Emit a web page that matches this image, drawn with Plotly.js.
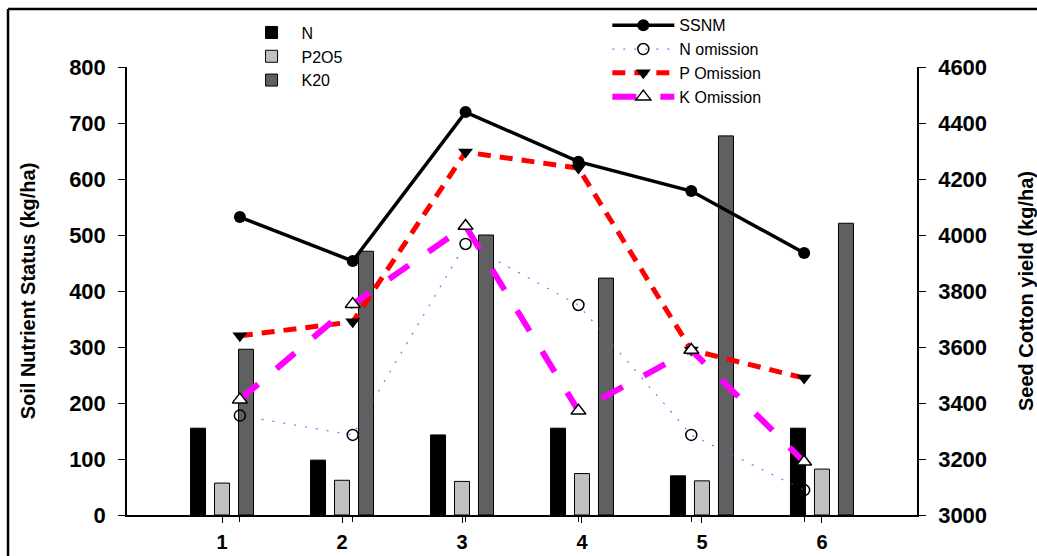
<!DOCTYPE html>
<html>
<head>
<meta charset="utf-8">
<script src="https://cdn.plot.ly/plotly-3.0.1.min.js"></script>
<style>html,body{margin:0;padding:0;background:#fff;}#chart{width:1037px;height:556px;}</style>
</head>
<body>
<div id="chart"></div>
<script>
// ---- data ----
const categories = [1, 2, 3, 4, 5, 6];
const tickLabels = ["1", "2", "3", "4", "5", "6"];
const nutrientN = [155, 98, 143, 155, 70, 155];
const nutrientP2O5 = [57, 62, 60, 74, 61, 82];
const nutrientK20 = [296, 471, 500, 423, 677, 521];
const yieldSSNM = [4064, 3907, 4439, 4262, 4157, 3936];
const yieldNOmission = [3355, 3286, 3968, 3750, 3286, 3089];
const yieldPOmission = [3640, 3690, 4296, 4239, 3589, 3489];
const yieldKOmission = [3412, 3753, 4032, 3372, 3589, 3190];

const FONT = "Liberation Sans, Arial, sans-serif";

const traces = [
  {type: "bar", name: "N", x: categories, y: nutrientN, xaxis: "x", yaxis: "y",
   marker: {color: "#000000", line: {color: "#000000", width: 1}}, legend: "legend"},
  {type: "bar", name: "P2O5", x: categories, y: nutrientP2O5, xaxis: "x", yaxis: "y",
   marker: {color: "#c0c0c0", line: {color: "#000000", width: 1}}, legend: "legend"},
  {type: "bar", name: "K20", x: categories, y: nutrientK20, xaxis: "x", yaxis: "y",
   marker: {color: "#606060", line: {color: "#000000", width: 1}}, legend: "legend"},
  {type: "scatter", mode: "lines+markers", name: "SSNM", x: categories, y: yieldSSNM,
   xaxis: "x2", yaxis: "y2", legend: "legend2",
   line: {color: "#000000", width: 3.5},
   marker: {symbol: "circle", size: 12, color: "#000000"}},
  {type: "scatter", mode: "lines+markers", name: "N omission", x: categories, y: yieldNOmission,
   xaxis: "x2", yaxis: "y2", legend: "legend2",
   line: {color: "rgba(70,70,255,0.75)", width: 1.2, dash: "2px,9px"},
   marker: {symbol: "circle-open", size: 11, color: "#000000", line: {width: 1.5, color: "#000000"}}},
  {type: "scatter", mode: "lines+markers", name: "P Omission", x: categories, y: yieldPOmission,
   xaxis: "x2", yaxis: "y2", legend: "legend2",
   line: {color: "#ff0000", width: 5, dash: "13px,9px"},
   marker: {symbol: "triangle-down", size: 13, color: "#000000"}},
  {type: "scatter", mode: "lines+markers", name: "K Omission", x: categories, y: yieldKOmission,
   xaxis: "x2", yaxis: "y2", legend: "legend2",
   line: {color: "#ff00ff", width: 6, dash: "24px,24px"},
   marker: {symbol: "triangle-up", size: 13, color: "#ffffff", line: {width: 1.5, color: "#000000"}}}
];

const tickFont = {family: FONT, size: 22, color: "#000000", weight: "bold"};
const xTickFont = {family: FONT, size: 20, color: "#000000", weight: "bold"};

const layout = {
  width: 1037, height: 556,
  margin: {l: 127, r: 120, t: 67, b: 41, autoexpand: false},
  paper_bgcolor: "#ffffff", plot_bgcolor: "#ffffff",
  font: {family: FONT, color: "#000000"},
  barmode: "group", bargap: 0.4, bargroupgap: 0.375,
  showlegend: true,
  xaxis: {
    range: [0.208, 6.792], tickmode: "array", tickvals: categories, ticktext: tickLabels,
    ticks: "outside", ticklen: 6, tickwidth: 1.2, tickcolor: "#000",
    showline: true, linecolor: "#000", linewidth: 1.5, showgrid: false, zeroline: false,
    tickfont: xTickFont, ticklabelstandoff: 2, automargin: false
  },
  xaxis2: {
    overlaying: "x", anchor: "y", side: "bottom", range: [0, 7],
    tickmode: "array", tickvals: categories, showticklabels: false,
    ticks: "outside", ticklen: 6, tickwidth: 1.2, tickcolor: "#000",
    showline: false, showgrid: false, zeroline: false, automargin: false
  },
  yaxis: {
    range: [0, 800], dtick: 100, tick0: 0,
    ticks: "outside", ticklen: 7, tickwidth: 1.2, tickcolor: "#000",
    showline: true, linecolor: "#000", linewidth: 1.5, showgrid: false, zeroline: false,
    tickfont: tickFont, ticklabelstandoff: 8, automargin: false,
    title: {text: "Soil Nutrient Status (kg/ha)", font: {family: FONT, size: 20, color: "#000", weight: "bold"}, standoff: 28}
  },
  yaxis2: {
    overlaying: "y", side: "right", anchor: "x", range: [3000, 4600], dtick: 200, tick0: 3000,
    ticks: "outside", ticklen: 7, tickwidth: 1.2, tickcolor: "#000",
    showline: true, linecolor: "#000", linewidth: 1.5, showgrid: false, zeroline: false,
    tickfont: tickFont, ticklabelstandoff: 8, automargin: false,
    title: {text: "Seed Cotton yield (kg/ha)", font: {family: FONT, size: 20, color: "#000", weight: "bold"}, standoff: 50}
  },
  legend: {
    x: 0.145, y: 0.972, xanchor: "left", yanchor: "top", yref: "container",
    bgcolor: "rgba(0,0,0,0)", borderwidth: 0, tracegroupgap: 0,
    font: {family: FONT, size: 16, color: "#000"}, itemwidth: 50, traceorder: "normal"
  },
  legend2: {
    x: 0.608, y: 0.985, xanchor: "left", yanchor: "top", yref: "container",
    bgcolor: "rgba(0,0,0,0)", borderwidth: 0, tracegroupgap: 0,
    font: {family: FONT, size: 16, color: "#000"}, itemwidth: 62, traceorder: "normal"
  },
  shapes: [
    {type: "line", xref: "paper", yref: "paper", x0: -0.1506, x1: -0.1506, y0: 1.1295, y1: -0.3,
     line: {color: "#000", width: 2.5}},
    {type: "line", xref: "paper", yref: "paper", x0: -0.1506, x1: 1.3, y0: 1.1295, y1: 1.1295,
     line: {color: "#000", width: 2.5}}
  ]
};

Plotly.newPlot("chart", traces, layout, {displayModeBar: false, responsive: false});
</script>
</body>
</html>
